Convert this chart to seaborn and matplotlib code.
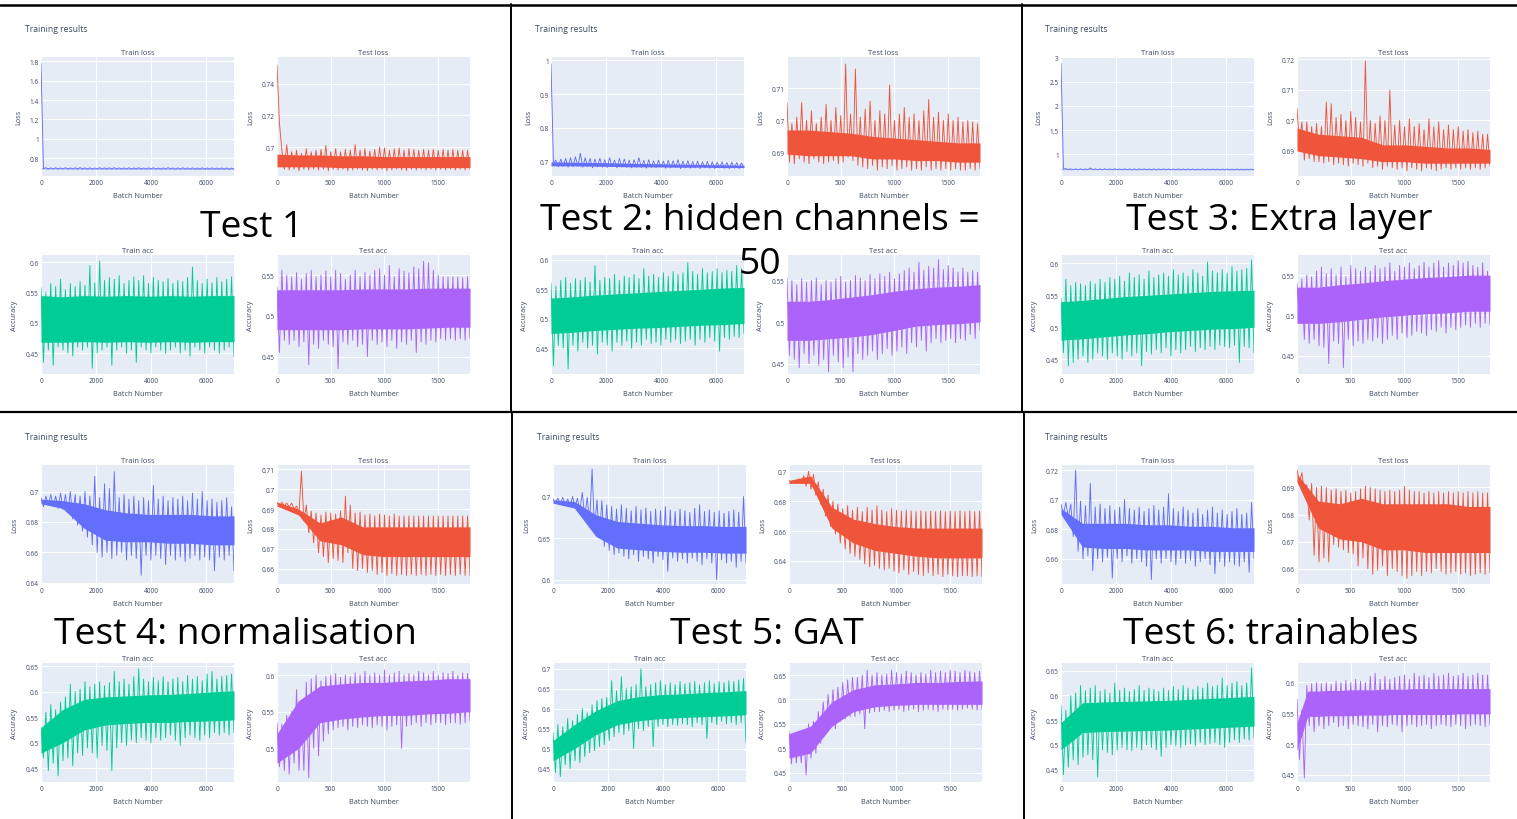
import numpy as np
import matplotlib
matplotlib.use("Agg")
import matplotlib.pyplot as plt
import seaborn as sns
from matplotlib.lines import Line2D

# ---------------------------------------------------------------------------
# Recorded metrics. Each curve is stored as alternating spike tops (hi) and
# spike bottoms (lo), plus the dense core band (top / bot) of the noise.
# ---------------------------------------------------------------------------
TRAIN_BATCHES = 7000
TEST_BATCHES = 1800

# ---- Test 1 ---------------------------------------------------------------
t1_train_loss_hi = [1.78, 0.700, 0.698, 0.699, 0.697, 0.700, 0.698, 0.699, 0.701, 0.698,
                    0.699, 0.697, 0.700, 0.698, 0.699, 0.701, 0.698, 0.697, 0.699, 0.698,
                    0.700, 0.697, 0.698, 0.699, 0.697, 0.698, 0.700, 0.697, 0.698, 0.699,
                    0.697, 0.698, 0.697, 0.699, 0.697, 0.698, 0.696, 0.698, 0.697, 0.696]
t1_train_loss_lo = [0.690, 0.686, 0.687, 0.686, 0.687, 0.685, 0.687, 0.686, 0.687, 0.686,
                    0.685, 0.687, 0.686, 0.687, 0.685, 0.686, 0.687, 0.686, 0.685, 0.687,
                    0.686, 0.685, 0.687, 0.686, 0.685, 0.686, 0.687, 0.685, 0.686, 0.685,
                    0.686, 0.685, 0.686, 0.685, 0.686, 0.685, 0.686, 0.685, 0.685, 0.686]
t1_train_loss_top = [0.695, 0.695, 0.694, 0.694, 0.694, 0.694, 0.693, 0.693, 0.693, 0.693]
t1_train_loss_bot = [0.689, 0.689, 0.688, 0.688, 0.688, 0.688, 0.688, 0.687, 0.687, 0.687]

t1_test_loss_hi = [0.752, 0.698, 0.7015, 0.697, 0.698, 0.696, 0.699, 0.697, 0.698, 0.6985,
                   0.701, 0.697, 0.699, 0.697, 0.6985, 0.698, 0.7015, 0.698, 0.699, 0.6975,
                   0.6985, 0.700, 0.6995, 0.698, 0.699, 0.6995, 0.698, 0.699, 0.6985, 0.698,
                   0.6985, 0.698, 0.6985, 0.698, 0.6985, 0.698, 0.6985, 0.698, 0.698, 0.698]
t1_test_loss_lo = [0.715, 0.686, 0.6855, 0.686, 0.685, 0.686, 0.6855, 0.686, 0.6855, 0.686,
                   0.685, 0.686, 0.6855, 0.686, 0.685, 0.6855, 0.686, 0.6855, 0.685, 0.686,
                   0.6855, 0.686, 0.685, 0.6855, 0.686, 0.6855, 0.685, 0.686, 0.6855, 0.686,
                   0.6855, 0.686, 0.6855, 0.686, 0.6855, 0.686, 0.6855, 0.686, 0.6855, 0.686]
t1_test_loss_top = [0.6955, 0.695, 0.695, 0.6945, 0.6945, 0.694, 0.694, 0.694, 0.694, 0.694]
t1_test_loss_bot = [0.6875, 0.6875, 0.6875, 0.687, 0.687, 0.687, 0.687, 0.687, 0.687, 0.687]

t1_train_acc_hi = [0.558, 0.550, 0.565, 0.560, 0.572, 0.555, 0.565, 0.560, 0.568, 0.562,
                   0.595, 0.566, 0.602, 0.570, 0.575, 0.572, 0.578, 0.565, 0.570, 0.576,
                   0.570, 0.578, 0.565, 0.575, 0.570, 0.568, 0.573, 0.565, 0.570, 0.568,
                   0.575, 0.592, 0.570, 0.565, 0.572, 0.566, 0.575, 0.568, 0.572, 0.576]
t1_train_acc_lo = [0.435, 0.455, 0.430, 0.460, 0.455, 0.450, 0.445, 0.460, 0.455, 0.460,
                   0.425, 0.450, 0.455, 0.460, 0.430, 0.455, 0.460, 0.450, 0.455, 0.435,
                   0.460, 0.455, 0.450, 0.460, 0.455, 0.450, 0.455, 0.460, 0.450, 0.455,
                   0.445, 0.460, 0.455, 0.450, 0.460, 0.455, 0.450, 0.455, 0.460, 0.445]
t1_train_acc_top = [0.545, 0.543, 0.545, 0.544, 0.545, 0.544, 0.545, 0.544, 0.545, 0.545]
t1_train_acc_bot = [0.468, 0.468, 0.469, 0.468, 0.469, 0.468, 0.469, 0.468, 0.469, 0.469]

t1_test_acc_hi = [0.535, 0.556, 0.550, 0.548, 0.553, 0.545, 0.552, 0.556, 0.548, 0.550,
                  0.555, 0.548, 0.556, 0.552, 0.545, 0.550, 0.556, 0.548, 0.553, 0.550,
                  0.556, 0.558, 0.550, 0.562, 0.548, 0.558, 0.555, 0.553, 0.560, 0.558,
                  0.567, 0.565, 0.556, 0.550, 0.548, 0.548, 0.548, 0.548, 0.547, 0.548]
t1_test_acc_lo = [0.455, 0.470, 0.465, 0.470, 0.462, 0.468, 0.440, 0.465, 0.460, 0.470,
                  0.465, 0.462, 0.435, 0.468, 0.465, 0.470, 0.462, 0.465, 0.450, 0.470,
                  0.465, 0.468, 0.462, 0.470, 0.460, 0.468, 0.465, 0.470, 0.455, 0.468,
                  0.465, 0.470, 0.468, 0.472, 0.470, 0.472, 0.470, 0.472, 0.470, 0.472]
t1_test_acc_top = [0.532, 0.532, 0.532, 0.532, 0.533, 0.533, 0.533, 0.534, 0.534, 0.534]
t1_test_acc_bot = [0.483, 0.483, 0.483, 0.483, 0.484, 0.484, 0.484, 0.485, 0.486, 0.486]

# ---- Test 2 ---------------------------------------------------------------
t2_train_loss_hi = [0.990, 0.705, 0.708, 0.710, 0.712, 0.715, 0.725, 0.712, 0.710, 0.708,
                    0.710, 0.706, 0.712, 0.705, 0.710, 0.708, 0.705, 0.706, 0.712, 0.704,
                    0.706, 0.703, 0.705, 0.702, 0.704, 0.703, 0.706, 0.702, 0.703, 0.701,
                    0.702, 0.700, 0.701, 0.700, 0.699, 0.700, 0.698, 0.699, 0.698, 0.697]
t2_train_loss_lo = [0.695, 0.685, 0.686, 0.684, 0.685, 0.686, 0.684, 0.685, 0.682, 0.685,
                    0.684, 0.683, 0.685, 0.682, 0.684, 0.683, 0.682, 0.684, 0.683, 0.681,
                    0.683, 0.682, 0.684, 0.681, 0.682, 0.683, 0.680, 0.682, 0.681, 0.682,
                    0.680, 0.682, 0.681, 0.680, 0.682, 0.681, 0.680, 0.681, 0.680, 0.681]
t2_train_loss_top = [0.700, 0.699, 0.698, 0.697, 0.695, 0.694, 0.693, 0.692, 0.691, 0.690]
t2_train_loss_bot = [0.688, 0.688, 0.687, 0.686, 0.685, 0.685, 0.684, 0.684, 0.683, 0.683]

t2_test_loss_hi = [0.7055, 0.699, 0.701, 0.7055, 0.700, 0.703, 0.699, 0.701, 0.705, 0.700,
                   0.704, 0.7015, 0.7175, 0.702, 0.716, 0.701, 0.7035, 0.706, 0.700, 0.703,
                   0.702, 0.711, 0.700, 0.702, 0.704, 0.701, 0.702, 0.700, 0.703, 0.7065,
                   0.701, 0.7025, 0.700, 0.702, 0.700, 0.701, 0.6995, 0.700, 0.6995, 0.699]
t2_test_loss_lo = [0.687, 0.6865, 0.688, 0.687, 0.6865, 0.688, 0.687, 0.6865, 0.687, 0.6875,
                   0.6865, 0.687, 0.6885, 0.6875, 0.686, 0.6855, 0.685, 0.686, 0.6845, 0.6855,
                   0.685, 0.686, 0.6845, 0.685, 0.6855, 0.6845, 0.685, 0.6845, 0.6855, 0.6845,
                   0.685, 0.6845, 0.685, 0.6845, 0.685, 0.6845, 0.6845, 0.685, 0.6845, 0.685]
t2_test_loss_top = [0.697, 0.697, 0.6965, 0.696, 0.695, 0.6945, 0.694, 0.6935, 0.693, 0.693]
t2_test_loss_bot = [0.6895, 0.689, 0.689, 0.689, 0.688, 0.688, 0.6875, 0.6875, 0.687, 0.687]

t2_train_acc_hi = [0.560, 0.555, 0.565, 0.570, 0.560, 0.568, 0.565, 0.570, 0.562, 0.590,
                   0.565, 0.570, 0.568, 0.575, 0.565, 0.572, 0.570, 0.575, 0.568, 0.585,
                   0.572, 0.575, 0.570, 0.578, 0.572, 0.580, 0.575, 0.578, 0.595, 0.580,
                   0.575, 0.585, 0.578, 0.580, 0.585, 0.578, 0.582, 0.580, 0.590, 0.585]
t2_train_acc_lo = [0.420, 0.455, 0.450, 0.415, 0.455, 0.445, 0.460, 0.450, 0.455, 0.440,
                   0.460, 0.455, 0.445, 0.460, 0.455, 0.462, 0.450, 0.460, 0.455, 0.465,
                   0.458, 0.460, 0.455, 0.465, 0.460, 0.465, 0.458, 0.462, 0.465, 0.455,
                   0.465, 0.460, 0.468, 0.462, 0.445, 0.468, 0.465, 0.470, 0.468, 0.475]
t2_train_acc_top = [0.535, 0.537, 0.540, 0.542, 0.544, 0.546, 0.548, 0.550, 0.552, 0.553]
t2_train_acc_bot = [0.475, 0.477, 0.480, 0.482, 0.484, 0.485, 0.487, 0.489, 0.490, 0.492]

t2_test_acc_hi = [0.553, 0.550, 0.545, 0.552, 0.548, 0.550, 0.553, 0.545, 0.550, 0.548,
                  0.552, 0.555, 0.548, 0.550, 0.556, 0.553, 0.550, 0.557, 0.552, 0.558,
                  0.555, 0.560, 0.552, 0.558, 0.562, 0.565, 0.560, 0.572, 0.562, 0.567,
                  0.565, 0.575, 0.563, 0.568, 0.565, 0.560, 0.565, 0.560, 0.562, 0.560]
t2_test_acc_lo = [0.460, 0.455, 0.445, 0.462, 0.450, 0.460, 0.448, 0.455, 0.440, 0.460,
                  0.452, 0.445, 0.458, 0.440, 0.462, 0.455, 0.460, 0.465, 0.455, 0.462,
                  0.468, 0.460, 0.465, 0.470, 0.462, 0.475, 0.470, 0.478, 0.465, 0.475,
                  0.480, 0.475, 0.478, 0.480, 0.475, 0.480, 0.478, 0.485, 0.480, 0.490]
t2_test_acc_top = [0.525, 0.525, 0.527, 0.530, 0.533, 0.537, 0.540, 0.542, 0.543, 0.545]
t2_test_acc_bot = [0.478, 0.478, 0.480, 0.482, 0.485, 0.490, 0.495, 0.497, 0.498, 0.500]

# ---- Test 3 ---------------------------------------------------------------
t3_train_loss_hi = [2.88, 0.705, 0.702, 0.700, 0.701, 0.700, 0.720, 0.702, 0.700, 0.701,
                    0.700, 0.702, 0.699, 0.701, 0.700, 0.699, 0.701, 0.700, 0.699, 0.700,
                    0.698, 0.700, 0.699, 0.698, 0.700, 0.698, 0.699, 0.698, 0.697, 0.699,
                    0.698, 0.697, 0.698, 0.697, 0.698, 0.696, 0.698, 0.697, 0.696, 0.697]
t3_train_loss_lo = [0.700, 0.686, 0.687, 0.686, 0.685, 0.686, 0.687, 0.686, 0.685, 0.686,
                    0.685, 0.686, 0.685, 0.686, 0.685, 0.684, 0.686, 0.685, 0.684, 0.685,
                    0.684, 0.685, 0.684, 0.685, 0.684, 0.685, 0.684, 0.683, 0.684, 0.685,
                    0.684, 0.683, 0.684, 0.683, 0.684, 0.683, 0.684, 0.683, 0.684, 0.683]
t3_train_loss_top = [0.697, 0.697, 0.696, 0.696, 0.695, 0.695, 0.695, 0.694, 0.694, 0.694]
t3_train_loss_bot = [0.688, 0.688, 0.688, 0.687, 0.687, 0.687, 0.686, 0.686, 0.686, 0.686]

t3_test_loss_hi = [0.704, 0.6995, 0.6995, 0.698, 0.699, 0.698, 0.706, 0.7055, 0.701, 0.702,
                   0.700, 0.703, 0.701, 0.6995, 0.7195, 0.700, 0.699, 0.7015, 0.700, 0.710,
                   0.6985, 0.700, 0.698, 0.7005, 0.698, 0.699, 0.697, 0.7005, 0.698, 0.6995,
                   0.697, 0.6985, 0.697, 0.698, 0.6965, 0.697, 0.696, 0.6965, 0.6955, 0.6955]
t3_test_loss_lo = [0.692, 0.687, 0.6875, 0.6865, 0.6865, 0.686, 0.6865, 0.6855, 0.686, 0.6855,
                   0.685, 0.686, 0.6855, 0.685, 0.686, 0.6845, 0.685, 0.684, 0.685, 0.6845,
                   0.684, 0.6845, 0.6835, 0.6845, 0.684, 0.6835, 0.6845, 0.684, 0.6835, 0.684,
                   0.6845, 0.684, 0.6845, 0.684, 0.6845, 0.684, 0.6845, 0.684, 0.6845, 0.685]
t3_test_loss_top = [0.6975, 0.6955, 0.695, 0.6945, 0.692, 0.692, 0.6915, 0.691, 0.691, 0.6905]
t3_test_loss_bot = [0.690, 0.6885, 0.688, 0.6875, 0.6865, 0.6865, 0.686, 0.686, 0.686, 0.686]

t3_train_acc_hi = [0.545, 0.575, 0.565, 0.570, 0.568, 0.565, 0.572, 0.568, 0.575, 0.570,
                   0.578, 0.575, 0.580, 0.572, 0.585, 0.578, 0.582, 0.575, 0.588, 0.578,
                   0.582, 0.585, 0.580, 0.590, 0.582, 0.585, 0.580, 0.590, 0.585, 0.580,
                   0.602, 0.588, 0.585, 0.590, 0.585, 0.595, 0.588, 0.590, 0.592, 0.605]
t3_train_acc_lo = [0.460, 0.440, 0.445, 0.450, 0.455, 0.445, 0.450, 0.460, 0.455, 0.450,
                   0.460, 0.455, 0.450, 0.462, 0.455, 0.460, 0.440, 0.462, 0.458, 0.465,
                   0.460, 0.468, 0.455, 0.465, 0.460, 0.465, 0.470, 0.462, 0.468, 0.465,
                   0.470, 0.465, 0.472, 0.470, 0.468, 0.472, 0.445, 0.470, 0.468, 0.460]
t3_train_acc_top = [0.540, 0.542, 0.545, 0.548, 0.550, 0.552, 0.554, 0.556, 0.557, 0.558]
t3_train_acc_bot = [0.480, 0.482, 0.485, 0.488, 0.490, 0.493, 0.495, 0.497, 0.498, 0.500]

t3_test_acc_hi = [0.540, 0.545, 0.550, 0.548, 0.555, 0.560, 0.552, 0.558, 0.550, 0.560,
                  0.548, 0.562, 0.558, 0.555, 0.560, 0.555, 0.562, 0.558, 0.560, 0.565,
                  0.555, 0.562, 0.560, 0.565, 0.558, 0.562, 0.566, 0.560, 0.565, 0.568,
                  0.560, 0.565, 0.562, 0.568, 0.565, 0.567, 0.562, 0.560, 0.565, 0.555]
t3_test_acc_lo = [0.490, 0.470, 0.465, 0.470, 0.462, 0.460, 0.440, 0.468, 0.465, 0.435,
                  0.470, 0.462, 0.468, 0.465, 0.470, 0.468, 0.472, 0.465, 0.470, 0.475,
                  0.470, 0.478, 0.472, 0.475, 0.480, 0.478, 0.475, 0.482, 0.480, 0.485,
                  0.478, 0.485, 0.482, 0.485, 0.488, 0.485, 0.490, 0.485, 0.490, 0.488]
t3_test_acc_top = [0.535, 0.535, 0.538, 0.540, 0.543, 0.545, 0.547, 0.548, 0.550, 0.550]
t3_test_acc_bot = [0.490, 0.490, 0.492, 0.495, 0.498, 0.500, 0.502, 0.503, 0.505, 0.505]

# ---- Test 4 ---------------------------------------------------------------
t4_train_loss_hi = [0.696, 0.697, 0.698, 0.697, 0.699, 0.698, 0.700, 0.698, 0.697, 0.700,
                    0.697, 0.710, 0.696, 0.705, 0.702, 0.713, 0.696, 0.698, 0.695, 0.697,
                    0.694, 0.696, 0.694, 0.704, 0.695, 0.697, 0.694, 0.696, 0.695, 0.697,
                    0.694, 0.699, 0.695, 0.700, 0.694, 0.695, 0.693, 0.694, 0.696, 0.690]
t4_train_loss_lo = [0.690, 0.691, 0.690, 0.689, 0.688, 0.686, 0.682, 0.678, 0.674, 0.670,
                    0.665, 0.660, 0.657, 0.660, 0.656, 0.658, 0.660, 0.655, 0.658, 0.656,
                    0.645, 0.658, 0.655, 0.658, 0.656, 0.652, 0.658, 0.655, 0.657, 0.654,
                    0.656, 0.658, 0.655, 0.657, 0.655, 0.648, 0.657, 0.655, 0.658, 0.648]
t4_train_loss_top = [0.695, 0.694, 0.692, 0.688, 0.686, 0.685, 0.685, 0.685, 0.684, 0.684]
t4_train_loss_bot = [0.692, 0.689, 0.676, 0.668, 0.667, 0.667, 0.666, 0.666, 0.665, 0.665]

t4_test_loss_hi = [0.6935, 0.6935, 0.693, 0.693, 0.6915, 0.709, 0.692, 0.689, 0.688, 0.687,
                   0.6885, 0.688, 0.6875, 0.689, 0.6965, 0.692, 0.688, 0.6885, 0.687, 0.6875,
                   0.6865, 0.6875, 0.687, 0.6865, 0.6875, 0.6865, 0.6865, 0.6865, 0.6865, 0.6865,
                   0.6865, 0.6865, 0.6865, 0.6865, 0.6865, 0.6865, 0.6865, 0.6865, 0.6865, 0.6865]
t4_test_loss_lo = [0.6915, 0.6915, 0.691, 0.690, 0.688, 0.684, 0.678, 0.673, 0.668, 0.666,
                   0.663, 0.665, 0.664, 0.663, 0.668, 0.660, 0.659, 0.660, 0.658, 0.659,
                   0.657, 0.658, 0.6565, 0.6575, 0.6565, 0.657, 0.6565, 0.657, 0.6565, 0.657,
                   0.6565, 0.657, 0.6565, 0.657, 0.6565, 0.657, 0.6565, 0.657, 0.6565, 0.6565]
t4_test_loss_top = [0.6935, 0.690, 0.683, 0.686, 0.681, 0.681, 0.681, 0.681, 0.681, 0.681]
t4_test_loss_bot = [0.6915, 0.687, 0.674, 0.672, 0.667, 0.666, 0.666, 0.666, 0.666, 0.666]

t4_train_acc_hi = [0.530, 0.560, 0.575, 0.565, 0.580, 0.590, 0.615, 0.600, 0.605, 0.620,
                   0.610, 0.615, 0.620, 0.612, 0.618, 0.640, 0.620, 0.625, 0.615, 0.630,
                   0.645, 0.625, 0.620, 0.628, 0.622, 0.630, 0.620, 0.625, 0.628, 0.620,
                   0.632, 0.625, 0.630, 0.622, 0.635, 0.640, 0.625, 0.630, 0.632, 0.635]
t4_train_acc_lo = [0.470, 0.445, 0.460, 0.435, 0.465, 0.470, 0.455, 0.480, 0.475, 0.490,
                   0.480, 0.470, 0.495, 0.485, 0.445, 0.490, 0.500, 0.495, 0.505, 0.500,
                   0.510, 0.505, 0.500, 0.510, 0.505, 0.510, 0.515, 0.505, 0.495, 0.510,
                   0.515, 0.510, 0.505, 0.515, 0.510, 0.520, 0.515, 0.520, 0.515, 0.520]
t4_train_acc_top = [0.530, 0.565, 0.585, 0.590, 0.592, 0.594, 0.595, 0.597, 0.600, 0.602]
t4_train_acc_bot = [0.480, 0.500, 0.525, 0.535, 0.538, 0.540, 0.540, 0.542, 0.543, 0.545]

t4_test_acc_hi = [0.535, 0.533, 0.545, 0.550, 0.580, 0.555, 0.590, 0.595, 0.600, 0.592,
                  0.598, 0.600, 0.602, 0.597, 0.600, 0.598, 0.603, 0.600, 0.605, 0.600,
                  0.603, 0.600, 0.607, 0.600, 0.603, 0.605, 0.600, 0.602, 0.600, 0.605,
                  0.603, 0.600, 0.605, 0.600, 0.603, 0.602, 0.605, 0.600, 0.603, 0.602]
t4_test_acc_lo = [0.475, 0.470, 0.465, 0.480, 0.470, 0.470, 0.460, 0.500, 0.490, 0.510,
                  0.520, 0.525, 0.528, 0.530, 0.525, 0.530, 0.528, 0.532, 0.530, 0.528,
                  0.532, 0.530, 0.525, 0.530, 0.532, 0.500, 0.530, 0.532, 0.535, 0.530,
                  0.535, 0.532, 0.535, 0.535, 0.532, 0.535, 0.535, 0.533, 0.535, 0.538]
t4_test_acc_top = [0.520, 0.565, 0.585, 0.588, 0.590, 0.590, 0.592, 0.593, 0.595, 0.595]
t4_test_acc_bot = [0.480, 0.500, 0.535, 0.540, 0.543, 0.545, 0.545, 0.547, 0.548, 0.550]

# ---- Test 5 ---------------------------------------------------------------
t5_train_loss_hi = [0.697, 0.698, 0.699, 0.697, 0.700, 0.698, 0.705, 0.699, 0.733, 0.696,
                    0.695, 0.690, 0.688, 0.685, 0.690, 0.686, 0.683, 0.688, 0.684, 0.686,
                    0.682, 0.685, 0.683, 0.688, 0.684, 0.682, 0.685, 0.683, 0.681, 0.686,
                    0.690, 0.682, 0.684, 0.681, 0.683, 0.680, 0.682, 0.684, 0.681, 0.700]
t5_train_loss_lo = [0.692, 0.691, 0.690, 0.688, 0.687, 0.683, 0.675, 0.668, 0.660, 0.650,
                    0.640, 0.635, 0.630, 0.632, 0.628, 0.625, 0.630, 0.622, 0.628, 0.625,
                    0.620, 0.628, 0.624, 0.610, 0.626, 0.622, 0.625, 0.620, 0.626, 0.622,
                    0.618, 0.625, 0.620, 0.600, 0.624, 0.620, 0.622, 0.615, 0.622, 0.620]
t5_train_loss_top = [0.696, 0.694, 0.678, 0.670, 0.668, 0.666, 0.665, 0.665, 0.664, 0.664]
t5_train_loss_bot = [0.692, 0.686, 0.652, 0.638, 0.636, 0.634, 0.633, 0.633, 0.632, 0.632]

t5_test_loss_hi = [0.694, 0.694, 0.695, 0.697, 0.700, 0.698, 0.693, 0.688, 0.684, 0.680,
                   0.678, 0.675, 0.677, 0.674, 0.676, 0.673, 0.676, 0.674, 0.677, 0.674,
                   0.673, 0.675, 0.674, 0.6735, 0.674, 0.6735, 0.673, 0.6735, 0.673, 0.6735,
                   0.673, 0.6735, 0.673, 0.6735, 0.673, 0.6735, 0.673, 0.6735, 0.673, 0.6735]
t5_test_loss_lo = [0.692, 0.692, 0.692, 0.690, 0.688, 0.684, 0.678, 0.670, 0.663, 0.658,
                   0.652, 0.648, 0.645, 0.643, 0.641, 0.638, 0.636, 0.637, 0.635, 0.634,
                   0.635, 0.633, 0.632, 0.634, 0.631, 0.633, 0.631, 0.630, 0.632, 0.630,
                   0.631, 0.6295, 0.631, 0.630, 0.6295, 0.630, 0.630, 0.6295, 0.630, 0.6295]
t5_test_loss_top = [0.694, 0.697, 0.676, 0.668, 0.665, 0.663, 0.662, 0.662, 0.662, 0.662]
t5_test_loss_bot = [0.692, 0.692, 0.662, 0.652, 0.647, 0.645, 0.643, 0.642, 0.642, 0.642]

t5_train_acc_hi = [0.540, 0.560, 0.555, 0.575, 0.570, 0.585, 0.600, 0.590, 0.610, 0.620,
                   0.625, 0.628, 0.670, 0.645, 0.680, 0.650, 0.655, 0.660, 0.700, 0.655,
                   0.660, 0.665, 0.670, 0.660, 0.665, 0.660, 0.668, 0.662, 0.665, 0.668,
                   0.660, 0.665, 0.670, 0.662, 0.668, 0.665, 0.670, 0.668, 0.672, 0.676]
t5_train_acc_lo = [0.440, 0.430, 0.460, 0.450, 0.470, 0.465, 0.480, 0.490, 0.495, 0.505,
                   0.510, 0.520, 0.530, 0.540, 0.535, 0.545, 0.500, 0.550, 0.545, 0.555,
                   0.505, 0.555, 0.560, 0.555, 0.560, 0.558, 0.562, 0.560, 0.555, 0.565,
                   0.560, 0.525, 0.565, 0.560, 0.568, 0.562, 0.565, 0.560, 0.565, 0.515]
t5_train_acc_top = [0.520, 0.560, 0.595, 0.620, 0.630, 0.635, 0.637, 0.640, 0.642, 0.645]
t5_train_acc_bot = [0.470, 0.500, 0.535, 0.560, 0.570, 0.575, 0.578, 0.580, 0.582, 0.585]

t5_test_acc_hi = [0.535, 0.530, 0.532, 0.535, 0.550, 0.555, 0.575, 0.595, 0.610, 0.620,
                  0.625, 0.635, 0.640, 0.645, 0.645, 0.650, 0.660, 0.650, 0.655, 0.650,
                  0.652, 0.660, 0.655, 0.652, 0.658, 0.655, 0.650, 0.655, 0.652, 0.660,
                  0.655, 0.658, 0.655, 0.660, 0.658, 0.655, 0.660, 0.657, 0.655, 0.658]
t5_test_acc_lo = [0.468, 0.470, 0.470, 0.445, 0.480, 0.490, 0.510, 0.530, 0.545, 0.540,
                  0.555, 0.560, 0.565, 0.565, 0.570, 0.540, 0.572, 0.575, 0.575, 0.578,
                  0.575, 0.578, 0.580, 0.575, 0.578, 0.580, 0.575, 0.578, 0.580, 0.578,
                  0.575, 0.580, 0.578, 0.580, 0.578, 0.580, 0.582, 0.580, 0.578, 0.580]
t5_test_acc_top = [0.530, 0.545, 0.595, 0.620, 0.630, 0.632, 0.635, 0.635, 0.637, 0.638]
t5_test_acc_bot = [0.480, 0.490, 0.545, 0.575, 0.585, 0.588, 0.590, 0.590, 0.590, 0.590]

# ---- Test 6 ---------------------------------------------------------------
t6_train_loss_hi = [0.697, 0.698, 0.697, 0.720, 0.699, 0.696, 0.711, 0.695, 0.697, 0.694,
                    0.696, 0.693, 0.695, 0.700, 0.694, 0.693, 0.695, 0.692, 0.694, 0.696,
                    0.693, 0.695, 0.704, 0.694, 0.692, 0.695, 0.693, 0.691, 0.694, 0.690,
                    0.693, 0.695, 0.691, 0.693, 0.690, 0.692, 0.694, 0.690, 0.691, 0.698]
t6_train_loss_lo = [0.690, 0.688, 0.675, 0.665, 0.660, 0.662, 0.652, 0.660, 0.658, 0.661,
                    0.647, 0.660, 0.658, 0.662, 0.657, 0.660, 0.658, 0.655, 0.646, 0.660,
                    0.657, 0.660, 0.658, 0.656, 0.660, 0.657, 0.659, 0.655, 0.658, 0.660,
                    0.656, 0.650, 0.658, 0.655, 0.658, 0.656, 0.655, 0.658, 0.651, 0.660]
t6_train_loss_top = [0.694, 0.684, 0.684, 0.684, 0.683, 0.683, 0.682, 0.682, 0.681, 0.681]
t6_train_loss_bot = [0.690, 0.668, 0.667, 0.667, 0.666, 0.666, 0.666, 0.665, 0.665, 0.665]

t6_test_loss_hi = [0.6965, 0.6955, 0.691, 0.6915, 0.690, 0.6905, 0.690, 0.689, 0.6895, 0.6885,
                   0.689, 0.688, 0.6885, 0.6895, 0.6905, 0.690, 0.6895, 0.689, 0.6885, 0.689,
                   0.6885, 0.689, 0.6905, 0.689, 0.6885, 0.6885, 0.688, 0.6885, 0.688, 0.6885,
                   0.688, 0.6885, 0.688, 0.6885, 0.688, 0.6885, 0.688, 0.6885, 0.688, 0.688]
t6_test_loss_lo = [0.692, 0.688, 0.678, 0.665, 0.6625, 0.664, 0.6625, 0.669, 0.668, 0.667,
                   0.666, 0.6655, 0.661, 0.664, 0.660, 0.658, 0.6595, 0.661, 0.6575, 0.660,
                   0.659, 0.6575, 0.6565, 0.6575, 0.659, 0.6575, 0.659, 0.6585, 0.660, 0.659,
                   0.658, 0.6585, 0.659, 0.658, 0.6585, 0.6575, 0.658, 0.6585, 0.658, 0.6585]
t6_test_loss_top = [0.695, 0.685, 0.684, 0.686, 0.684, 0.684, 0.684, 0.684, 0.683, 0.683]
t6_test_loss_bot = [0.692, 0.675, 0.671, 0.670, 0.667, 0.667, 0.666, 0.666, 0.666, 0.666]

t6_train_acc_hi = [0.580, 0.570, 0.600, 0.605, 0.620, 0.610, 0.615, 0.620, 0.608, 0.612,
                   0.605, 0.625, 0.610, 0.615, 0.608, 0.612, 0.620, 0.610, 0.615, 0.612,
                   0.608, 0.615, 0.610, 0.618, 0.612, 0.620, 0.615, 0.612, 0.618, 0.615,
                   0.625, 0.618, 0.620, 0.635, 0.620, 0.625, 0.628, 0.620, 0.625, 0.655]
t6_train_acc_lo = [0.440, 0.455, 0.470, 0.460, 0.475, 0.480, 0.470, 0.435, 0.490, 0.485,
                   0.480, 0.490, 0.495, 0.490, 0.488, 0.495, 0.490, 0.500, 0.495, 0.490,
                   0.477, 0.495, 0.500, 0.498, 0.495, 0.500, 0.502, 0.498, 0.505, 0.500,
                   0.502, 0.505, 0.500, 0.495, 0.505, 0.510, 0.505, 0.512, 0.510, 0.515]
t6_train_acc_top = [0.545, 0.585, 0.587, 0.588, 0.589, 0.590, 0.592, 0.594, 0.596, 0.598]
t6_train_acc_bot = [0.490, 0.525, 0.527, 0.528, 0.529, 0.530, 0.532, 0.534, 0.536, 0.538]

t6_test_acc_hi = [0.573, 0.555, 0.595, 0.598, 0.600, 0.598, 0.600, 0.597, 0.602, 0.600,
                  0.603, 0.600, 0.605, 0.602, 0.600, 0.610, 0.615, 0.605, 0.610, 0.605,
                  0.608, 0.610, 0.612, 0.605, 0.615, 0.610, 0.612, 0.608, 0.615, 0.610,
                  0.612, 0.615, 0.610, 0.612, 0.615, 0.610, 0.612, 0.615, 0.612, 0.612]
t6_test_acc_lo = [0.475, 0.445, 0.530, 0.520, 0.530, 0.525, 0.530, 0.535, 0.528, 0.530,
                  0.525, 0.532, 0.530, 0.528, 0.525, 0.532, 0.520, 0.530, 0.528, 0.532,
                  0.530, 0.520, 0.530, 0.532, 0.528, 0.530, 0.532, 0.525, 0.530, 0.532,
                  0.530, 0.528, 0.532, 0.530, 0.525, 0.530, 0.532, 0.530, 0.528, 0.530]
t6_test_acc_top = [0.535, 0.586, 0.586, 0.587, 0.587, 0.588, 0.588, 0.588, 0.589, 0.589,
                   0.589, 0.590, 0.590, 0.590, 0.590, 0.590, 0.590, 0.590, 0.590]
t6_test_acc_bot = [0.490, 0.545, 0.545, 0.546, 0.546, 0.546, 0.547, 0.547, 0.547, 0.548,
                   0.548, 0.548, 0.548, 0.548, 0.548, 0.549, 0.549, 0.549, 0.549]

# Panel headings, one list of lines per experiment
experiment_titles = [
    ["Test 1"],
    ["Test 2: hidden channels =", "50"],
    ["Test 3: Extra layer"],
    ["Test 4: normalisation"],
    ["Test 5: GAT"],
    ["Test 6: trainables"],
]
subplot_titles = ["Train loss", "Test loss", "Train acc", "Test acc"]
subplot_ylabels = ["Loss", "Loss", "Accuracy", "Accuracy"]

# ---------------------------------------------------------------------------
series = {
    1: [(t1_train_loss_hi, t1_train_loss_lo, t1_train_loss_top, t1_train_loss_bot),
        (t1_test_loss_hi, t1_test_loss_lo, t1_test_loss_top, t1_test_loss_bot),
        (t1_train_acc_hi, t1_train_acc_lo, t1_train_acc_top, t1_train_acc_bot),
        (t1_test_acc_hi, t1_test_acc_lo, t1_test_acc_top, t1_test_acc_bot)],
    2: [(t2_train_loss_hi, t2_train_loss_lo, t2_train_loss_top, t2_train_loss_bot),
        (t2_test_loss_hi, t2_test_loss_lo, t2_test_loss_top, t2_test_loss_bot),
        (t2_train_acc_hi, t2_train_acc_lo, t2_train_acc_top, t2_train_acc_bot),
        (t2_test_acc_hi, t2_test_acc_lo, t2_test_acc_top, t2_test_acc_bot)],
    3: [(t3_train_loss_hi, t3_train_loss_lo, t3_train_loss_top, t3_train_loss_bot),
        (t3_test_loss_hi, t3_test_loss_lo, t3_test_loss_top, t3_test_loss_bot),
        (t3_train_acc_hi, t3_train_acc_lo, t3_train_acc_top, t3_train_acc_bot),
        (t3_test_acc_hi, t3_test_acc_lo, t3_test_acc_top, t3_test_acc_bot)],
    4: [(t4_train_loss_hi, t4_train_loss_lo, t4_train_loss_top, t4_train_loss_bot),
        (t4_test_loss_hi, t4_test_loss_lo, t4_test_loss_top, t4_test_loss_bot),
        (t4_train_acc_hi, t4_train_acc_lo, t4_train_acc_top, t4_train_acc_bot),
        (t4_test_acc_hi, t4_test_acc_lo, t4_test_acc_top, t4_test_acc_bot)],
    5: [(t5_train_loss_hi, t5_train_loss_lo, t5_train_loss_top, t5_train_loss_bot),
        (t5_test_loss_hi, t5_test_loss_lo, t5_test_loss_top, t5_test_loss_bot),
        (t5_train_acc_hi, t5_train_acc_lo, t5_train_acc_top, t5_train_acc_bot),
        (t5_test_acc_hi, t5_test_acc_lo, t5_test_acc_top, t5_test_acc_bot)],
    6: [(t6_train_loss_hi, t6_train_loss_lo, t6_train_loss_top, t6_train_loss_bot),
        (t6_test_loss_hi, t6_test_loss_lo, t6_test_loss_top, t6_test_loss_bot),
        (t6_train_acc_hi, t6_train_acc_lo, t6_train_acc_top, t6_train_acc_bot),
        (t6_test_acc_hi, t6_test_acc_lo, t6_test_acc_top, t6_test_acc_bot)],
}

# y-axis ranges (low, high, tick step) for each subplot
y_axes = {
    1: [(0.614, 1.845, 0.2), (0.6817, 0.757, 0.02), (0.4156, 0.612, 0.05), (0.4286, 0.5747, 0.05)],
    2: [(0.658, 1.0099, 0.1), (0.6827, 0.7197, 0.01), (0.4063, 0.608, 0.05), (0.4375, 0.5806, 0.05)],
    3: [(0.555, 3.005, 0.5), (0.6818, 0.7208, 0.01), (0.427, 0.613, 0.05), (0.427, 0.575, 0.05)],
    4: [(0.6393, 0.7174, 0.02), (0.6522, 0.7122, 0.01), (0.423, 0.6566, 0.05), (0.4543, 0.6164, 0.05)],
    5: [(0.5948, 0.7379, 0.05), (0.6245, 0.7043, 0.02), (0.4164, 0.7143, 0.05), (0.4308, 0.6747, 0.05)],
    6: [(0.643, 0.7234, 0.02), (0.6544, 0.6983, 0.01), (0.425, 0.6656, 0.05), (0.4386, 0.6315, 0.05)],
}

# ---------------------------------------------------------------------------
sns.set_theme(style="darkgrid")
plt.rcParams["font.family"] = ["Open Sans", "DejaVu Sans"]

COLORS = ["#636EFA", "#EF553B", "#00CC96", "#AB63FA"]
PLOT_BG = "#E5ECF6"
TEXT = "#3b4862"
W, H = 1517, 820

fig = plt.figure(figsize=(W / 100, H / 100), dpi=100)
fig.patch.set_facecolor("white")


def px_box(left, top, width, height):
    return [left / W, 1 - (top + height) / H, width / W, height / H]


def fmt(v):
    return f"{round(v, 4):g}"


panel_origin = {1: (0, 5), 2: (510, 5), 3: (1020, 5),
                4: (0, 413), 5: (512, 413), 6: (1020, 413)}
heading_pos = {1: (252, [237]), 2: (760, [230, 274]), 3: (1279, [230]),
               4: (235, [644]), 5: (767, [644]), 6: (1271, [644])}

# subplot boxes inside a panel: (left, top) offsets, all 193 x 119 px
sub_offsets = [(41, 53), (277, 53), (41, 251), (277, 251)]

for k in range(1, 7):
    px0, py0 = panel_origin[k]
    fig.text((px0 + 25) / W, 1 - (py0 + 27) / H, "Training results",
             fontsize=6.2, color=TEXT, ha="left", va="baseline")
    for j in range(4):
        ox, oy = sub_offsets[j]
        ax = fig.add_axes(px_box(px0 + ox, py0 + oy, 193, 119))
        ax.set_facecolor(PLOT_BG)
        xmax = TRAIN_BATCHES if j % 2 == 0 else TEST_BATCHES
        hi, lo, top, bot = series[k][j]
        n = min(len(hi), len(lo))
        ys = np.empty(2 * n)
        ys[0::2] = hi[:n]
        ys[1::2] = lo[:n]
        xs = np.linspace(0, xmax, 2 * n)
        xc = np.linspace(0, xmax, len(top))
        ax.fill_between(xc, bot, top, color=COLORS[j], lw=0, zorder=2)
        sns.lineplot(x=xs, y=ys, ax=ax, color=COLORS[j], linewidth=0.65,
                     estimator=None, sort=False, zorder=3)

        ylo, yhi, step = y_axes[k][j]
        ax.set_xlim(0, xmax)
        ax.set_ylim(ylo, yhi)
        yt = np.arange(np.ceil(ylo / step - 1e-6) * step, yhi + 1e-9, step)
        ax.set_yticks(yt)
        ax.set_yticklabels([fmt(v) for v in yt])
        xt = [0, 2000, 4000, 6000] if j % 2 == 0 else [0, 500, 1000, 1500]
        ax.set_xticks(xt)
        ax.set_xticklabels([str(v) for v in xt])
        ax.grid(True, color="white", linewidth=0.8)
        for s in ax.spines.values():
            s.set_visible(False)
        ax.tick_params(axis="both", length=0, labelsize=4.7, colors=TEXT)
        ax.tick_params(axis="y", pad=1.6)
        ax.tick_params(axis="x", pad=2.2)
        ax.set_title(subplot_titles[j], fontsize=5.5, color=TEXT, pad=2.0)
        ax.set_xlabel("Batch Number", fontsize=5.2, color=TEXT, labelpad=4.3)
        ax.set_ylabel(subplot_ylabels[j], fontsize=5.2, color=TEXT, labelpad=5.5)

    cx, baselines = heading_pos[k]
    for line, by in zip(experiment_titles[k - 1], baselines):
        fig.text(cx / W, 1 - by / H, line, fontsize=26.8, color="black",
                 ha="center", va="baseline", zorder=10)


# panel separators
def hline(y, x0, x1, lw):
    fig.add_artist(Line2D([x0 / W, x1 / W], [1 - y / H, 1 - y / H],
                          transform=fig.transFigure, color="black", lw=lw))


def vline(x, y0, y1, lw):
    fig.add_artist(Line2D([x / W, x / W], [1 - y0 / H, 1 - y1 / H],
                          transform=fig.transFigure, color="black", lw=lw))


hline(5.5, 0, W, 1.8)
hline(413, 0, W, 1.6)
vline(511, 5, 413, 1.4)
vline(1021.5, 5, 413, 1.4)
vline(511.5, 413, H, 1.4)
vline(1023.5, 413, H, 1.4)

fig.savefig("out.png", dpi=100, facecolor="white")
